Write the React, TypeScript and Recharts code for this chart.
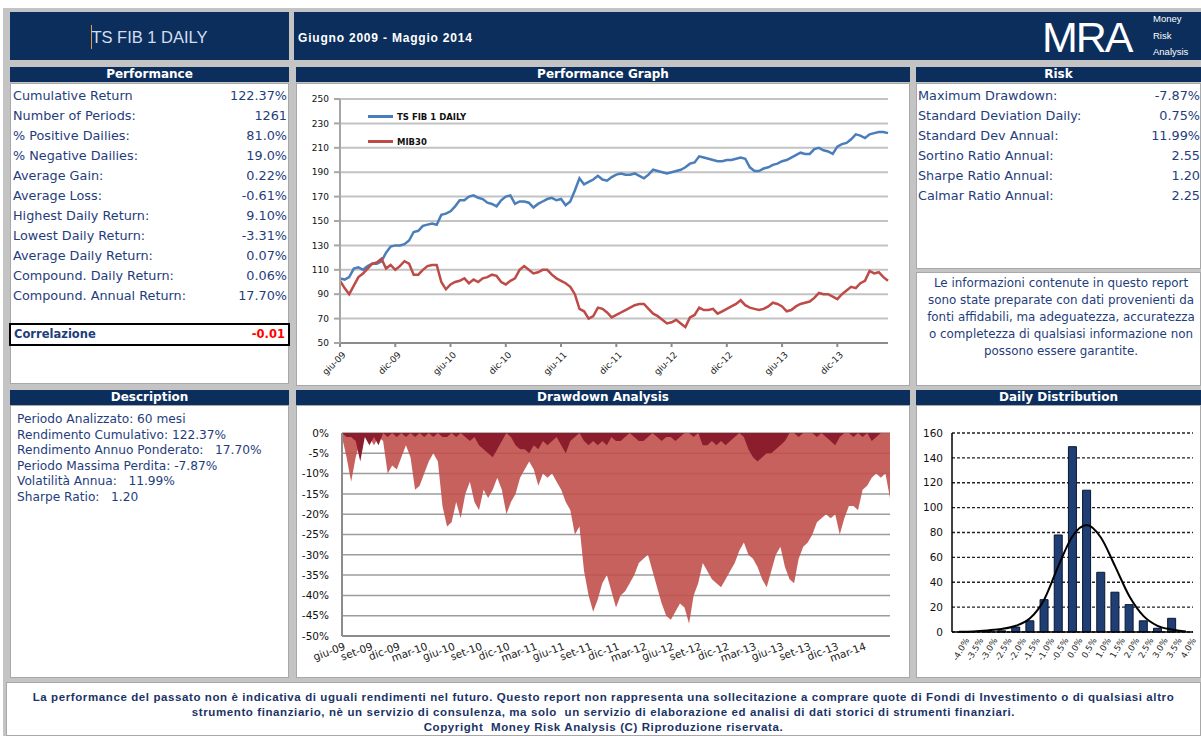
import React from "react"
import {
  LineChart,
  Line,
  AreaChart,
  Area,
  ComposedChart,
  Bar,
  XAxis,
  YAxis,
  CartesianGrid,
  Legend,
} from "recharts"

const NAVY = "#0c2e5d"
const INK = "#1f3d7c"
const FONT = "'DejaVu Sans', Verdana, sans-serif"
const NARROW = "'Liberation Sans', Arial, sans-serif"

// Performance graph: one reading every half month, giu-09 .. mag-14
const perfTicks = ["giu-09", "dic-09", "giu-10", "dic-10", "giu-11", "dic-11", "giu-12", "dic-12", "giu-13", "dic-13"]
const perfY = [50, 70, 90, 110, 130, 150, 170, 190, 210, 230, 250]
const fibIndex = [
  103, 102, 104, 111, 112, 110, 113, 115, 115, 117,
  124, 129, 130, 130, 131, 134, 141, 142, 146, 147,
  148, 147, 155, 156, 158, 162, 167, 167, 170, 171,
  169, 168, 165, 164, 162, 167, 170, 171, 164, 166,
  166, 165, 161, 164, 166, 168, 169, 167, 168, 163,
  166, 175, 185, 180, 182, 184, 187, 184, 183, 186,
  188, 189, 188, 188, 189, 187, 185, 188, 192, 191,
  190, 189, 190, 191, 192, 194, 197, 198, 203, 202,
  201, 200, 199, 199, 200, 200, 201, 202, 201, 194,
  191, 191, 193, 194, 196, 197, 199, 200, 202, 204,
  206, 205, 205, 209, 210, 208, 207, 205, 211, 213,
  214, 217, 221, 220, 218, 221, 222, 223, 223, 222,
]
const mib30Index = [
  101, 95, 90, 97, 104, 107, 111, 115, 116, 119,
  111, 114, 110, 113, 117, 115, 106, 106, 110, 113,
  114, 114, 100, 94, 98, 100, 101, 103, 99, 102,
  100, 103, 104, 106, 105, 100, 98, 101, 103, 110,
  113, 110, 107, 108, 110, 110, 106, 103, 101, 99,
  96, 90, 78, 76, 70, 72, 79, 78, 75, 71,
  73, 75, 77, 79, 81, 82, 82, 78, 74, 72,
  69, 66, 67, 69, 66, 63, 71, 73, 79, 77,
  77, 78, 74, 76, 78, 80, 82, 85, 81, 79,
  78, 77, 78, 80, 83, 82, 80, 76, 77, 80,
  82, 83, 84, 87, 91, 90, 90, 88, 86, 90,
  93, 96, 95, 99, 101, 109, 107, 108, 104, 101,
]

// Drawdown analysis (%), one reading every half month
const ddTicks = [
  "giu-09", "set-09", "dic-09", "mar-10", "giu-10", "set-10", "dic-10", "mar-11", "giu-11", "set-11",
  "dic-11", "mar-12", "giu-12", "set-12", "dic-12", "mar-13", "giu-13", "set-13", "dic-13", "mar-14",
]
const ddY = [0, -5, -10, -15, -20, -25, -30, -35, -40, -45, -50]
const mibDrawdown = [
  -1, -6, -12, -6, -2, -1, -1, -3, -1, -2,
  -10, -8, -9, -6, -3, -6, -14, -13, -10, -7,
  -5, -7, -18, -23, -22, -17, -21, -15, -12, -17,
  -19, -14, -16, -14, -11, -14, -20, -17, -15, -11,
  -9, -7, -9, -13, -10, -11, -10, -12, -14, -17,
  -19, -25, -23, -34, -40, -44, -41, -37, -35, -39,
  -43, -40, -39, -37, -35, -32, -31, -30, -34, -38,
  -42, -45, -46, -44, -42, -43, -47, -40, -37, -32,
  -34, -36, -37, -38, -36, -34, -32, -29, -27, -30,
  -31, -33, -36, -38, -34, -30, -28, -33, -36, -37,
  -31, -28, -27, -25, -22, -21, -20, -21, -20, -25,
  -21, -18, -18, -19, -14, -13, -11, -10, -11, -10, -16,
]
const fibDrawdown = [
  0, -1, -1, -2, -7, -1, -3, -1, -3, 0,
  -1, 0, -1, 0, -1, 0, -1, 0, -1, 0,
  -1, 0, -1, -1, 0, -1, 0, -1, -2, -1,
  -3, -4, -5, -6, -4, -2, 0, -1, -3, -4,
  -4, -5, -3, -4, -2, -3, -2, -1, -3, -5,
  -2, -1, 0, -2, -3, -2, -3, -2, -3, -1,
  -2, -2, -1, 0, -1, -2, -2, -1, 0, -1,
  -2, -1, -1, -2, -1, 0, 0, -1, 0, -3,
  -3, -2, -3, -2, -3, -2, -1, 0, -1, -4,
  -6, -7, -6, -5, -5, -4, -3, -2, 0, 0,
  -1, 0, 0, 0, -1, 0, -1, -2, -3, -1,
  0, 0, -1, 0, -1, 0, -2, -1, 0, 0, 0,
]

// Daily distribution
const distBuckets = [
  "-4.0%", "-3.5%", "-3.0%", "-2.5%", "-2.0%", "-1.5%", "-1.0%", "-0.5%", "0.0%",
  "0.5%", "1.0%", "1.5%", "2.0%", "2.5%", "3.0%", "3.5%", "4.0%",
]
const distCounts = [0, 0, 1, 1, 4, 9, 26, 78, 149, 114, 48, 32, 22, 9, 3, 11, 0]
const distNormal = [0.2, 0.5, 1.3, 2.4, 5, 11, 26, 53, 77, 86, 76, 53, 29, 13, 5, 2, 0.5]
const distY = [0, 20, 40, 60, 80, 100, 120, 140, 160]

const performanceRows = [
  ["Cumulative Return", "122.37%"],
  ["Number of Periods:", "1261"],
  ["% Positive Dailies:", "81.0%"],
  ["% Negative Dailies:", "19.0%"],
  ["Average Gain:", "0.22%"],
  ["Average Loss:", "-0.61%"],
  ["Highest Daily Return:", "9.10%"],
  ["Lowest Daily Return:", "-3.31%"],
  ["Average Daily Return:", "0.07%"],
  ["Compound. Daily Return:", "0.06%"],
  ["Compound. Annual Return:", "17.70%"],
]
const riskRows = [
  ["Maximum Drawdown:", "-7.87%"],
  ["Standard Deviation Daily:", "0.75%"],
  ["Standard Dev Annual:", "11.99%"],
  ["Sortino Ratio Annual:", "2.55"],
  ["Sharpe Ratio Annual:", "1.20"],
  ["Calmar Ratio Annual:", "2.25"],
]
const descriptionLines = [
  "Periodo Analizzato: 60 mesi",
  "Rendimento Cumulativo: 122.37%",
  "Rendimento Annuo Ponderato:   17.70%",
  "Periodo Massima Perdita: -7.87%",
  "Volatilità Annua:   11.99%",
  "Sharpe Ratio:   1.20",
]
const disclaimerLines = [
  "Le informazioni contenute in questo report",
  "sono state preparate con dati provenienti da",
  "fonti affidabili, ma adeguatezza, accuratezza",
  "o completezza di qualsiasi informazione non",
  "possono essere garantite.",
]
const footerLines = [
  "La performance del passato non è indicativa di uguali rendimenti nel futuro. Questo report non rappresenta una sollecitazione a comprare quote di Fondi di Investimento o di qualsiasi altro",
  "strumento finanziario, nè un servizio di consulenza, ma solo  un servizio di elaborazione ed analisi di dati storici di strumenti finanziari.",
  "Copyright  Money Risk Analysis (C) Riproduzione riservata.",
]

const perfSeries = [
  { key: "fib", name: "TS FIB 1 DAILY", color: "#4a7ebb" },
  { key: "mib", name: "MIB30", color: "#be4b48" },
]

const perfData = fibIndex.map((v, i) => ({ m: i / 2, fib: v, mib: mib30Index[i] }))
const ddData = mibDrawdown.map((v, i) => ({ m: i / 2, mib: v, fib: fibDrawdown[i] }))
const distData = distBuckets.map((b, i) => ({ bucket: b, count: distCounts[i], normal: distNormal[i] }))

const box = (left: number, top: number, width: number, height: number, extra: React.CSSProperties = {}): React.CSSProperties => ({
  position: "absolute",
  left,
  top,
  width,
  height,
  boxSizing: "border-box",
  ...extra,
})

function SectionHeader({ left, width, top, title }: { left: number; width: number; top: number; title: string }) {
  return (
    <div
      style={box(left, top, width, 15, {
        background: NAVY,
        color: "#fff",
        font: `bold 12px ${FONT}`,
        lineHeight: "15px",
        textAlign: "center",
      })}
    >
      {title}
    </div>
  )
}

function rotatedTick(labels: string[], step: number, angle: number, size: number, dy: number) {
  return (props: any) => {
    const { x, y, payload } = props
    const label = typeof payload.value === "number" ? labels[Math.round(payload.value / step)] : payload.value
    return (
      <text
        x={x}
        y={y}
        dy={dy}
        textAnchor="end"
        fontSize={size}
        fontFamily={FONT}
        fill="#222"
        transform={`rotate(${angle} ${x} ${y})`}
      >
        {label}
      </text>
    )
  }
}

function PerfLegend() {
  return (
    <div>
      {perfSeries.map((s) => (
        <div key={s.key} style={{ display: "flex", alignItems: "center", height: 25 }}>
          <span style={{ display: "inline-block", width: 25, height: 3, background: s.color, marginRight: 4 }} />
          <span style={{ font: `bold 8.5px ${FONT}`, color: "#111" }}>{s.name}</span>
        </div>
      ))}
    </div>
  )
}

function PerformanceGraph() {
  return (
    <LineChart width={614} height={303} data={perfData} margin={{ top: 16, right: 22, left: 4, bottom: 13 }}>
      <CartesianGrid vertical={false} stroke="#c3c3c3" strokeWidth={2} />
      <XAxis
        type="number"
        dataKey="m"
        domain={[0, 59.5]}
        ticks={perfTicks.map((_, i) => i * 6)}
        interval={0}
        tick={rotatedTick(perfTicks, 6, -45, 9, 9)}
        stroke="#8c8c8c"
        strokeWidth={2}
        tickSize={4}
        height={30}
      />
      <YAxis
        domain={[50, 250]}
        ticks={perfY}
        interval={0}
        width={40}
        stroke="#a6a6a6"
        strokeWidth={2}
        tickSize={6}
        tickMargin={5}
        tick={{ fontSize: 9, fill: "#111", fontFamily: FONT }}
      />
      <Legend
        layout="horizontal"
        align="center"
        verticalAlign="middle"
        wrapperStyle={{ left: 72, top: 21, width: 150, height: 50 }}
        content={() => <PerfLegend />}
      />
      {perfSeries.map((s) => (
        <Line
          key={s.key}
          type="linear"
          dataKey={s.key}
          name={s.name}
          stroke={s.color}
          strokeWidth={2.5}
          dot={false}
          isAnimationActive={false}
        />
      ))}
    </LineChart>
  )
}

function DrawdownGraph() {
  return (
    <AreaChart width={614} height={273} data={ddData} margin={{ top: 28, right: 20, left: 4, bottom: 12 }}>
      <CartesianGrid vertical={false} stroke="#9c9c9c" strokeWidth={1.5} />
      <XAxis
        type="number"
        dataKey="m"
        domain={[0, 60]}
        ticks={ddTicks.map((_, i) => i * 3)}
        interval={0}
        tick={rotatedTick(ddTicks, 3, -20, 10.5, 12)}
        tickLine={false}
        tickSize={0}
        stroke="#8c8c8c"
        strokeWidth={2}
        height={30}
      />
      <YAxis
        domain={[-50, 0]}
        ticks={ddY}
        interval={0}
        width={42}
        stroke="#8c8c8c"
        strokeWidth={2}
        tickLine={false}
        tickSize={0}
        tickMargin={13}
        tickFormatter={(v) => `${v}%`}
        tick={{ fontSize: 10.5, fill: "#111", fontFamily: FONT }}
      />
      <Area type="linear" dataKey="mib" stroke="none" fill="#c0504d" fillOpacity={0.9} isAnimationActive={false} />
      <Area type="linear" dataKey="fib" stroke="none" fill="#8c1d2c" fillOpacity={1} isAnimationActive={false} />
    </AreaChart>
  )
}

function DistributionGraph() {
  return (
    <ComposedChart width={285} height={273} data={distData} margin={{ top: 28, right: 8, left: 6, bottom: 16 }}>
      <CartesianGrid vertical={false} stroke="#222" strokeDasharray="3 2" strokeWidth={1.3} />
      <XAxis
        dataKey="bucket"
        interval={0}
        tickLine={false}
        tickSize={0}
        stroke="#000"
        strokeWidth={1.5}
        height={30}
        tick={rotatedTick(distBuckets, 1, -60, 8.5, 12)}
      />
      <YAxis
        domain={[0, 160]}
        ticks={distY}
        interval={0}
        width={30}
        stroke="#000"
        strokeWidth={1.5}
        tickLine={false}
        tickSize={0}
        tickMargin={9}
        tick={{ fontSize: 10.5, fill: "#111", fontFamily: FONT }}
      />
      <Bar dataKey="count" fill="#1f3e74" stroke="#0a1730" strokeWidth={1} barSize={8} isAnimationActive={false} />
      <Line type="monotone" dataKey="normal" stroke="#000" strokeWidth={2} dot={false} isAnimationActive={false} />
    </ComposedChart>
  )
}

export default function App() {
  const panel: React.CSSProperties = { background: "#fff", border: "1px solid #a8a8a8" }
  return (
    <div style={box(0, 0, 1201, 736, { background: "#fff", overflow: "hidden", fontFamily: FONT })}>
      <div style={box(3, 8, 1198, 728, { background: "#c4c4c4" })} />

      {/* header */}
      <div style={box(10, 12, 279, 48, { background: NAVY })}>
        <div style={box(81, 13, 1, 24, { background: "#e0a040" })} />
        <div
          style={{
            position: "absolute",
            left: 0,
            right: 0,
            top: 0,
            font: `16.5px ${NARROW}`,
            lineHeight: "50px",
            textAlign: "center",
            color: "#d3def0",
          }}
        >
          TS FIB 1 DAILY
        </div>
      </div>
      <div style={box(294, 12, 907, 48, { background: NAVY })}>
        <div
          style={{
            position: "absolute",
            left: 4,
            top: 0,
            font: `bold 12px ${NARROW}`,
            lineHeight: "52px",
            letterSpacing: 0.8,
            color: "#fff",
          }}
        >
          Giugno 2009 - Maggio 2014
        </div>
        <div
          style={{
            position: "absolute",
            left: 748,
            top: 0,
            font: `43px ${NARROW}`,
            lineHeight: "50px",
            letterSpacing: -2,
            color: "#fff",
          }}
        >
          MRA
        </div>
        <div style={{ position: "absolute", left: 859, top: -1, font: `9.5px ${NARROW}`, lineHeight: "16.5px", color: "#fff" }}>
          Money
          <br />
          Risk
          <br />
          Analysis
        </div>
      </div>

      {/* row 2 */}
      <SectionHeader left={10} width={279} top={67} title="Performance" />
      <SectionHeader left={296} width={614} top={67} title="Performance Graph" />
      <SectionHeader left={916} width={285} top={67} title="Risk" />

      <div style={box(10, 83, 279, 301, panel)} />
      {performanceRows.map(([label, value], i) => (
        <div key={label} style={box(13, 87 + i * 20, 274, 17, { font: `12.8px ${FONT}`, color: INK, lineHeight: "17px" })}>
          <span>{label}</span>
          <span style={{ position: "absolute", right: 0 }}>{value}</span>
        </div>
      ))}
      <div style={box(9, 323, 281, 23, { border: "2px solid #000", background: "#fff", font: `bold 11.5px ${FONT}`, lineHeight: "19px" })}>
        <span style={{ position: "absolute", left: 3, color: INK }}>Correlazione</span>
        <span style={{ position: "absolute", right: 3, color: "#ff0000" }}>-0.01</span>
      </div>

      <div style={box(296, 83, 614, 303, panel)} />
      <div style={{ position: "absolute", left: 296, top: 83 }}>
        <PerformanceGraph />
      </div>

      <div style={box(916, 83, 285, 186, panel)} />
      {riskRows.map(([label, value], i) => (
        <div key={label} style={box(918, 87 + i * 20, 282, 17, { font: `12.8px ${FONT}`, color: INK, lineHeight: "17px" })}>
          <span>{label}</span>
          <span style={{ position: "absolute", right: 0 }}>{value}</span>
        </div>
      ))}
      <div style={box(916, 272, 285, 114, panel)} />
      {disclaimerLines.map((line, i) => (
        <div key={line} style={box(916, 275 + i * 17, 290, 17, { font: `11.9px ${FONT}`, color: INK, lineHeight: "17px", textAlign: "center", whiteSpace: "nowrap" })}>
          {line}
        </div>
      ))}

      {/* row 3 */}
      <SectionHeader left={10} width={279} top={390} title="Description" />
      <SectionHeader left={296} width={614} top={390} title="Drawdown Analysis" />
      <SectionHeader left={916} width={285} top={390} title="Daily Distribution" />

      <div style={box(10, 405, 279, 273, panel)} />
      {descriptionLines.map((line, i) => (
        <div
          key={line}
          style={box(17, 411 + i * 15.6, 270, 16, { font: `12.2px ${FONT}`, color: INK, lineHeight: "16px", whiteSpace: "pre" })}
        >
          {line}
        </div>
      ))}

      <div style={box(296, 405, 614, 273, panel)} />
      <div style={{ position: "absolute", left: 296, top: 405 }}>
        <DrawdownGraph />
      </div>

      <div style={box(916, 405, 285, 273, panel)} />
      <div style={{ position: "absolute", left: 916, top: 405 }}>
        <DistributionGraph />
      </div>

      {/* footer */}
      <div style={box(6, 682, 1195, 54, panel)} />
      {footerLines.map((line, i) => (
        <div
          key={i}
          style={box(6, 690 + i * 15, 1195, 15, {
            font: `bold 11.5px ${NARROW}`,
            lineHeight: "15px",
            letterSpacing: 0.6,
            color: "#1b3366",
            textAlign: "center",
            whiteSpace: "pre",
          })}
        >
          {line}
        </div>
      ))}
    </div>
  )
}
